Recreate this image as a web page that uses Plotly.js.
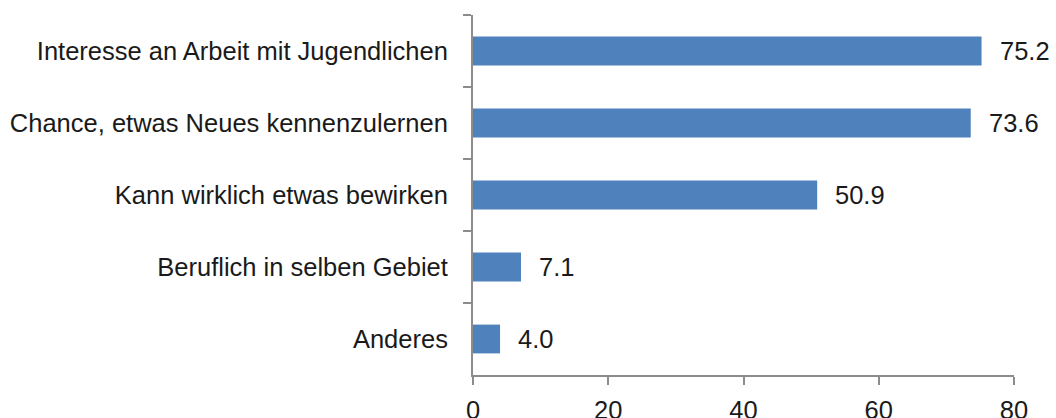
<!DOCTYPE html>
<html><head><meta charset="utf-8">
<script src="https://cdn.plot.ly/plotly-3.0.1.min.js"></script>
<style>html,body{margin:0;padding:0;background:#fff}#chart{width:1056px;height:418px}</style>
</head><body><div id="chart"></div>
<script>
const categories = ["Interesse an Arbeit mit Jugendlichen","Chance, etwas Neues kennenzulernen","Kann wirklich etwas bewirken","Beruflich in selben Gebiet","Anderes"];
const values = [75.2, 73.6, 50.9, 7.1, 4.0];
const xTicks = [0, 20, 40, 60, 80];

const fontFam = '"Liberation Sans", Arial, sans-serif';
const trace = {
  type: 'bar', orientation: 'h', y: categories, x: values,
  marker: {color: '#4f81bd'}, hoverinfo: 'none'
};
const annotations = values.map((v, i) => ({
  x: v, y: categories[i], xref: 'x', yref: 'y', text: v.toFixed(1),
  showarrow: false, xanchor: 'left', xshift: 16,
  font: {family: fontFam, size: 25.5, color: '#1a1a1a'}
}));
const layout = {
  width: 1056, height: 418,
  margin: {l: 473, r: 42, t: 15, b: 43},
  paper_bgcolor: '#fff', plot_bgcolor: '#fff',
  showlegend: false, bargap: 0.6,
  font: {family: fontFam, color: '#1a1a1a'},
  xaxis: {
    range: [0, 80], tickvals: xTicks, ticktext: xTicks.map(String),
    showgrid: false, zeroline: false, showline: true, linecolor: '#8c8c8c', linewidth: 2,
    ticks: 'outside', ticklen: 8, tickwidth: 2, tickcolor: '#8c8c8c',
    tickfont: {family: fontFam, size: 25.5, color: '#1a1a1a'}, ticklabelstandoff: 3
  },
  yaxis: {
    type: 'category', autorange: 'reversed', tickson: 'boundaries',
    showgrid: false, zeroline: false, showline: true, linecolor: '#8c8c8c', linewidth: 2,
    ticks: 'outside', ticklen: 8, tickwidth: 2, tickcolor: '#8c8c8c',
    tickfont: {family: fontFam, size: 25.5, color: '#1a1a1a'}, ticklabelstandoff: 18
  },
  annotations: annotations
};
Plotly.newPlot('chart', [trace], layout, {displayModeBar: false, staticPlot: true});
</script></body></html>
